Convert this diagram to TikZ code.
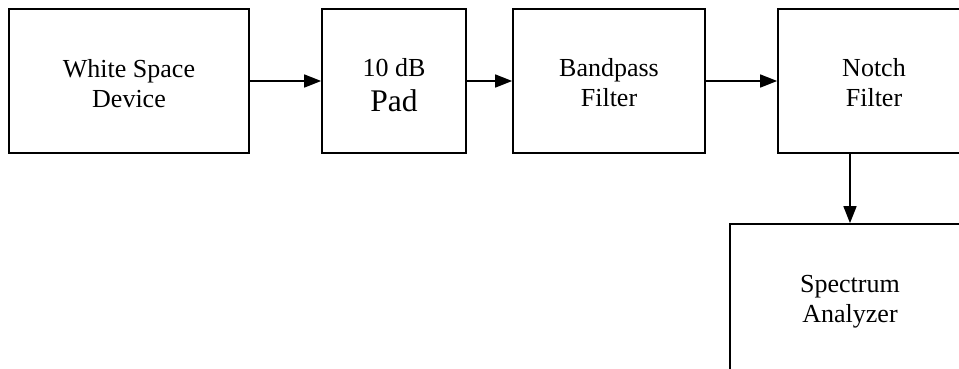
\documentclass[tikz,border=0pt]{standalone}
\usepackage{fontspec}
\setmainfont{Liberation Serif}
\usetikzlibrary{arrows.meta}
\begin{document}
\begin{tikzpicture}[x=1pt,y=-1pt,
 blk/.style={draw, line width=1.7pt, inner sep=0pt, minimum height=144pt},
 txt/.style={anchor=base, inner sep=0pt, font=\fontsize{26}{30}\selectfont},
 big/.style={anchor=base, inner sep=0pt, font=\fontsize{31.5}{35}\selectfont},
 conn/.style={line width=1.6pt, -{Triangle[length=17pt,width=13pt]}}]
\useasboundingbox (0,0) rectangle (959,368);
\clip (0,0) rectangle (959,368);
\node[blk, minimum width=240pt] (wsd) at (129,81) {};
\node[blk, minimum width=144pt] (pad) at (394,81) {};
\node[blk, minimum width=192pt] (bpf) at (609,81) {};
\node[blk, minimum width=192pt] (notch) at (874,81) {};
\node[blk, minimum width=240pt, minimum height=147pt] (spec) at (850,297.5) {};
\node[txt] (wsd1) at (129,77) {White Space};
\node[txt] (wsd2) at (129,107) {Device};
\node[txt] (pad1) at (394,76) {10 dB};
\node[big] (pad2) at (394,111) {Pad};
\node[txt] (bpf1) at (609,76) {Bandpass};
\node[txt] (bpf2) at (609,106) {Filter};
\node[txt] (notch1) at (874,76) {Notch};
\node[txt] (notch2) at (874,106) {Filter};
\node[txt] (spec1) at (850,292) {Spectrum};
\node[txt] (spec2) at (850,322) {Analyzer};
\draw[conn] (wsd) -- (pad);
\draw[conn] (pad) -- (bpf);
\draw[conn] (bpf) -- (notch);
\draw[conn] (spec.north |- notch.south) -- (spec.north);
\end{tikzpicture}
\end{document}
